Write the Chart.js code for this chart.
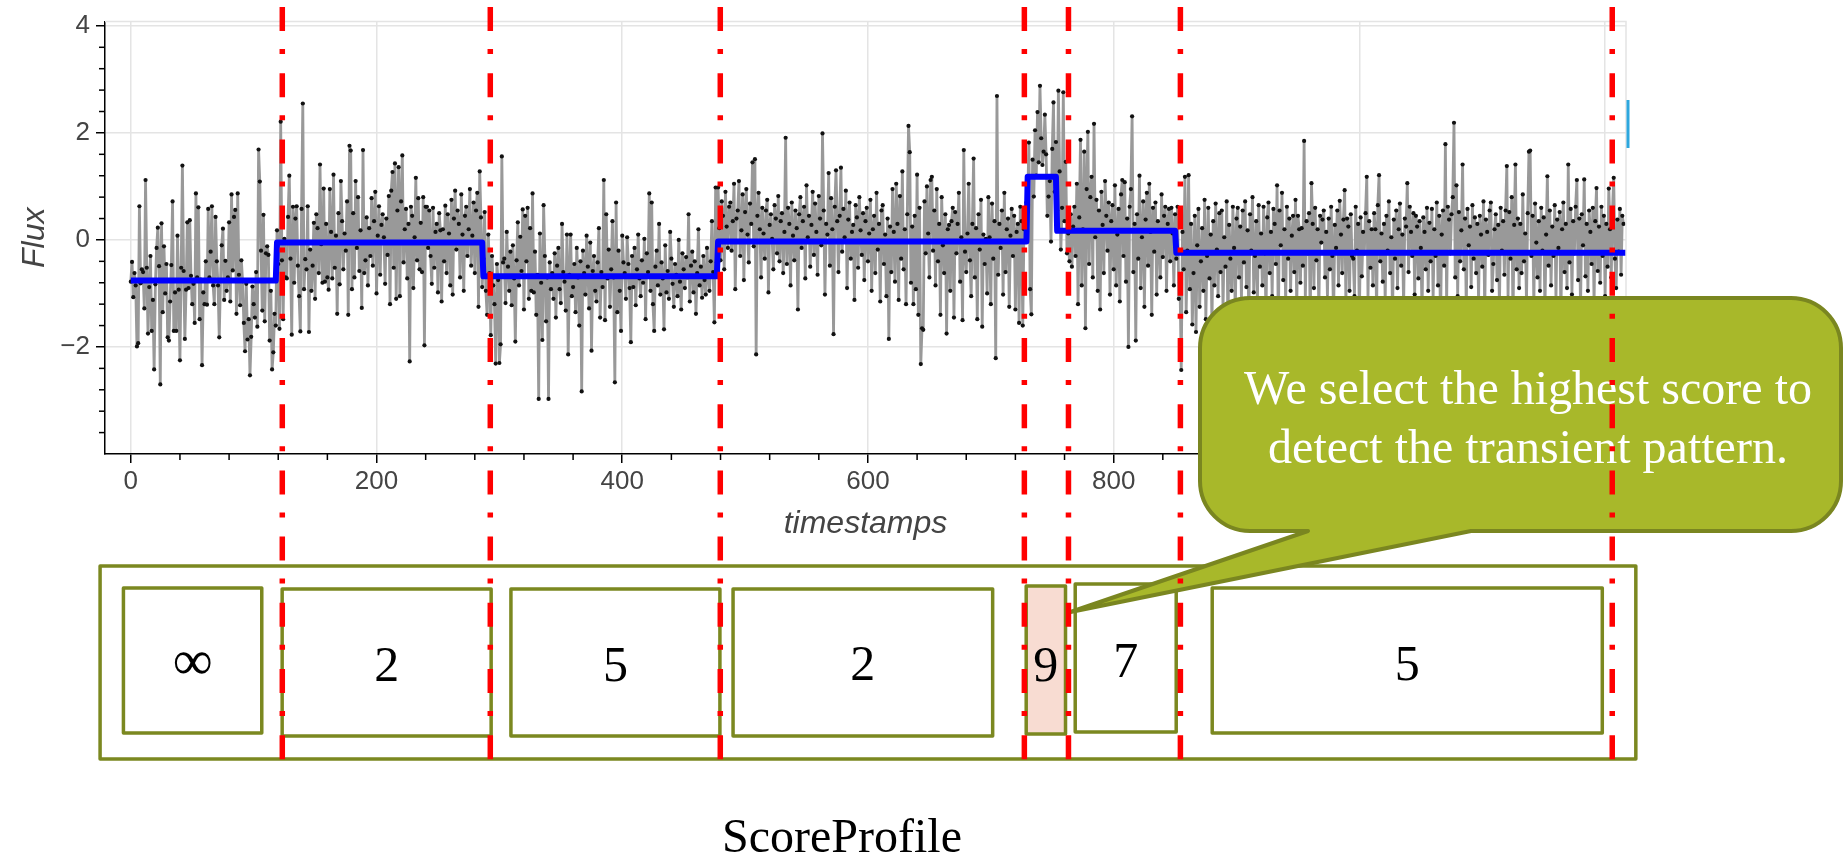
<!DOCTYPE html>
<html>
<head>
<meta charset="utf-8">
<title>ScoreProfile</title>
<script src="https://cdn.jsdelivr.net/npm/chart.js@4.4.1/dist/chart.umd.min.js"></script>
<style>
  html, body { margin: 0; padding: 0; background: #ffffff; overflow: hidden; }
  #wrap { width: 1845px; height: 854px; position: relative; }
  canvas { display: block; }
</style>
</head>
<body>
<div id="wrap"><canvas id="chart" width="1845" height="854" style="width:1845px;height:854px"></canvas></div>
<script>
// ---- Flux samples, one value per timestamp, split by fitted segment ----
const fluxSeg1 = [
  -0.78, -0.41, -1.07, -0.62, -0.85, -1.99, -1.93, 0.63, -0.81, -0.55,
  -0.60, -1.28, 1.12, -0.52, -1.75, -0.88, -0.30, -1.70, -1.12, -2.42,
  -0.83, -0.15, 0.23, -0.49, -2.70, 0.31, -1.35, -0.12, -1.00, -0.45,
  -1.82, -1.88, -1.15, -0.47, 0.72, -1.70, -0.98, -1.70, 0.08, -0.93,
  -2.25, -0.52, 1.39, -0.58, -1.85, -0.93, 0.33, -0.90, 0.37, -0.67,
  -1.20, -0.82, -1.55, 0.87, -0.70, 0.61, -1.48, -0.74, -2.34, -0.98,
  -1.20, -0.40, -1.21, 0.58, -0.70, -0.22, 0.63, -0.85, -1.20, 0.43,
  -0.40, -0.85, -1.82, -0.75, -0.10, 0.21, -1.12, -0.39, -0.95, -0.70,
  0.33, -1.15, 0.85, -0.57, 0.43, 0.56, -1.38, 0.87, -0.65, -1.22,
  -0.38, -0.77, -1.55, -2.08, -0.82, -1.86, -1.48, -2.53, -1.81, -0.87,
  -1.20, -1.45, -0.60, -1.62, 1.69, 1.09, -0.20, -1.32, 0.47, -1.52,
  -0.25, -0.12, -0.28, -1.88, -0.95, -2.42, -2.10, -1.38, -1.60
];
const fluxSeg2 = [
  0.18, -0.45, -1.66, 2.21, -0.38, -1.48, 0.02, -0.70, -0.72, 0.43,
  1.20, -0.35, -1.77, 0.62, -0.80, 0.40, 0.63, -0.48, -1.05, -1.71,
  0.58, 2.55, -0.92, -0.36, -0.55, 0.63, -1.72, -0.18, -0.95, -0.48,
  0.32, -1.10, 0.48, 0.22, -0.62, 1.41, -0.08, -0.80, 0.96, -0.78,
  0.30, -0.70, -0.93, 0.95, 0.15, -0.72, 1.22, -0.52, 0.08, -1.38,
  0.50, -0.83, 1.10, 0.35, -0.55, 0.12, -0.20, 0.72, -1.40, 1.76,
  1.67, -0.92, 0.50, -0.70, 1.10, -0.15, 0.80, -0.58, 0.18, -1.27,
  1.68, -0.62, -0.38, 0.42, -0.85, 0.22, -0.30, 0.78, -0.48, 0.35,
  0.90, -1.00, 0.08, 0.63, -0.65, 0.28, 0.48, 0.05, -0.82, 0.40,
  -0.28, 0.82, -1.20, 0.92, 1.27, -0.52, 1.43, -1.10, 0.55, 1.36,
  -1.05, 0.72, 1.58, -0.42, 0.20, 0.58, -0.72, 0.30, -2.27, 0.62,
  0.45, -0.90, 0.05, 1.16, -0.38, 0.78, -0.55, 0.32, -0.60, 0.80,
  -1.97, 0.62, 0.62, -0.15, 0.55, -0.30, -0.82, 0.60, -0.52, 0.15,
  0.30, -0.98, 0.50, 0.18, -1.15, 0.20, -0.40, 0.64, -0.62, 0.48,
  0.12, -0.85, 0.75, -1.02, 0.40, 0.92, -0.18, 0.55, 0.30, -0.70,
  0.85, 0.10, -0.95, 0.45, 0.62, -0.30, 0.20, 0.95, -0.48, 0.08,
  0.70, -0.62, 0.55, 0.88, -1.25, 1.28, 0.42, -0.88
];
const fluxSeg3 = [
  -0.35, 0.52, -0.95, -1.40, 0.10, -0.62, -1.78, -0.30, -0.85, -1.20,
  -2.31, -0.45, -0.75, -2.30, -1.95, 1.56, -0.42, -0.35, -1.18, 0.15,
  -0.50, -0.95, -0.22, -1.22, -0.10, -0.72, -1.90, -0.38, 0.33, -0.85,
  0.06, -0.58, 0.57, -1.30, 0.45, -0.40, 0.60, -1.10, 0.22, -0.95,
  0.87, -0.98, -0.22, -1.40, -0.65, -2.97, 0.12, -0.80, -1.87, 0.65,
  -0.30, -1.52, -0.70, -2.97, -0.42, -0.92, -0.62, -1.10, -0.25, -1.45,
  -0.48, -0.15, -0.92, -1.18, 0.30, -0.60, -0.78, -1.32, 0.10, -2.14,
  -0.65, 0.10, -1.05, -0.88, -0.45, -1.35, -0.15, -0.70, -1.60, -0.40,
  -2.83, -0.20, -0.62, -1.02, 0.08, -0.50, -1.28, -0.05, -2.07, -0.58,
  -0.30, -0.95, -1.15, -0.42, 0.22, -1.45, -0.60, -0.88, 1.12, -1.50,
  0.48, -0.72, -0.18, -1.25, -0.55, 0.35, -0.70, -2.66, 0.70, -1.35,
  -0.20, -0.95, -1.70, 0.08, -0.42, -0.62, -1.10, 0.05, -0.45, -0.90,
  -1.91, -0.30, -0.88, -0.15, -1.22, -0.55, 0.10, -0.72, -1.05, -0.38,
  -0.80, 0.02, -1.48, -0.25, -0.60, 0.87, -0.95, 0.70, -1.20, -1.70,
  -0.50, -0.20, -0.85, 0.30, -1.02, -0.42, -0.72, -1.67, -0.10, -0.98,
  -0.58, -1.10, 0.15, -0.35, -0.82, -1.25, -0.45, -0.65, -1.05, 0.00,
  -0.78, -1.30, -0.25, -0.55, -0.90, -0.32, -0.70, 0.48, -1.15, -0.48,
  -0.22, -0.98, -0.40, -1.38, -0.62, 0.20, -0.85, -0.50, -1.08, -0.30,
  -0.75, -1.02, -0.15, -0.68, -0.95, -0.40, 0.35, -0.60, -1.54, 0.98,
  -0.42
];
const fluxSeg4 = [
  0.98, 0.22, -0.38, 0.72, 0.45, -0.55, 0.90, 0.25, -0.15, 0.62,
  0.70, -0.20, 0.35, 1.05, -0.92, 0.40, 0.55, 1.10, -0.30, 0.18,
  0.85, -0.75, 0.52, 0.95, 0.10, -0.42, 0.68, 0.30, 1.45, -0.12,
  1.51, -2.14, 0.45, 0.88, 0.20, -0.70, 0.60, 0.12, -0.35, 0.55,
  0.75, -0.98, 0.28, 0.48, 0.02, -0.55, 0.65, 0.40, -0.25, 0.82,
  -0.40, 0.35, 0.50, -0.62, 0.15, 1.91, -0.45, 0.60, 0.30, -0.85,
  0.70, 0.08, -0.38, 0.55, 0.22, -1.30, 0.48, 0.80, -0.15, 0.35,
  0.62, -0.72, 1.02, 0.05, 0.45, -0.50, 0.28, 0.90, -0.28, 0.68,
  0.15, -0.65, 0.82, 0.40, -0.10, 1.99, 0.55, -1.02, 0.30, 0.10,
  1.25, -0.48, 0.78, 0.20, -1.76, 0.62, 1.30, 0.35, -0.60, 0.45,
  1.35, -0.22, 0.58, 0.05, 0.92, -0.90, 0.38, 0.70, -0.35, 0.15,
  0.28, -1.12, 0.65, 0.42, -0.52, 0.80, 0.18, -0.28, 0.50, -0.75,
  0.35, 0.60, -0.40, 0.12, 0.75, -0.95, 0.20, 0.45, -0.62, 0.88,
  -0.18, 0.30, -1.15, 0.55, 0.65, -0.45, 0.10, -1.05, 0.40, -1.85,
  0.25, -0.60, 0.95, 0.15, -0.78, 1.05, 0.30, -1.12, 0.82, -0.35,
  1.28, -0.55, 0.20, -1.20, 0.48, 2.13, 1.64, -0.80, 0.25, -1.20,
  0.45, -0.92, 1.22, -1.40, 0.60, -2.32, -1.65, -1.68, 0.72, -0.25,
  1.00, 0.12, -0.70, 1.12, 1.18, -0.20, 0.55, -0.85, 0.95, -0.40,
  0.30, -1.40, 0.80, -0.10, -0.62, 0.48, -1.75, 0.20, 0.28, -0.95,
  0.35, 0.60, -1.45, 0.52, -0.25, 0.30, 0.88, -0.78, 0.05, -1.50,
  1.68, -0.22, -0.60, 0.12, 1.05, -0.38, -1.05, 0.30, 1.52, -0.70,
  0.22, -1.48, 0.48, -0.18, 0.75, -1.62, 0.10, -0.45, 0.02, -1.00,
  0.80, 0.05, -1.20, 0.68, -0.35, 0.35, -2.21, 2.69, -0.65, 0.30,
  -0.15, 0.55, -1.02, 0.88, -0.60, 0.20, 0.40, -1.25, 0.08, 0.58,
  -0.30, 0.45, -1.30, 0.15, 0.30, -1.55, 0.62, 0.35, -1.60, 0.20,
  0.52, 0.70
];
const fluxSeg5 = [
  0.75, 1.82, -0.92, -1.39, 1.50, 0.81, 2.05, 1.20, 2.39, 1.45,
  2.88, 1.90, 1.40, 1.65, 2.34, 1.60, 0.45, 0.81, 1.10, -0.03,
  1.70, 2.57, 0.90, 1.83
];
const fluxSeg6 = [
  0.55, 2.79, 1.28, -0.18, 0.60, 2.76, 0.35, 1.46, -0.25, 0.12,
  -0.40, 0.48, -0.50, 0.25, 0.62, -0.30, 1.05, -1.20, 0.42, 1.87,
  -0.85, 0.20, 1.65, -1.65, 0.95, 2.02, -0.45, 0.80, 1.18, -0.70,
  2.17, 0.05, 0.75, -0.95, 0.55, -1.30, 0.90, 0.28, -0.62, 1.10,
  0.45, -0.20, 0.70, -1.02, 0.35, 0.65, -0.55, 1.02, -0.85, 0.10,
  0.58, -1.15, 0.85, 1.12, -0.30, 1.08, -0.78, 0.40, -2.00, 0.62,
  0.95, 2.31, -0.60, 0.30, -1.88, 0.48, -0.35, 1.20, -0.90, 0.05,
  0.72, -1.25, 0.38, 0.88, -0.48, 1.05, 0.15, -1.40, 0.60, -0.22,
  0.70, -1.02, 0.35, 0.18, -0.70, 0.85, -0.32, 0.45, 0.62, -0.95,
  0.30, 0.58, -0.40, 0.60, 0.12, -0.85, 0.48
];
const fluxSeg7 = [
  -0.35, 0.62, -1.10, -0.80, -2.43, 0.15, -0.55, 1.18, -1.35, -0.20,
  1.21, -0.92, 0.30, -1.58, -0.62, 0.45, -1.72, -0.10, 0.58, -1.25,
  -0.40, 0.22, -0.95, 0.75, -1.48, -0.30, 0.60, -0.72, 0.10, -1.62,
  0.35, -0.85, 0.68, -0.18, -1.05, 0.50, -0.60, 0.55, -1.30, 0.05,
  -0.50, 0.72, -1.80, 0.28, -0.35, -0.95, 0.62, -0.15, -1.40, 0.40,
  0.60, -0.70, 0.25, -1.12, 0.55, -0.42, 0.72, -0.88, 0.18, -1.55,
  0.48, -0.20, 0.80, -0.98, -0.30, 0.35, -1.22, 0.65, -0.50, 0.12,
  -0.85, 0.62, -0.25, -1.40, 0.42, 0.70, -0.62, 0.15, -1.05, 0.58,
  0.30, -0.45, 1.02, -1.70, 0.55, -0.10, 0.88, -0.75, 0.20, -1.20,
  0.62, -0.35, 0.40, -0.95, 0.08, 0.45, -0.60, 0.75, -1.30, 0.45,
  0.20, -0.80, 0.22, -0.48, 1.85, -1.15, 0.35, -0.25, 0.50, -1.62,
  1.06, 0.30, -0.90, 0.60, -0.38, 0.20, -1.35, 0.45, -0.05, 0.38,
  0.55, -0.70, 0.15, -1.08, 0.40, -0.55, 0.62, -0.30, -1.45, 0.28,
  -0.15, 0.55, -0.85, 0.73, 0.10, -0.62, 0.38, 0.93, -1.20, 0.40,
  0.25, -0.95, 0.48, -0.30, -0.35, -1.05, 0.62, -0.20, 0.30, -1.50,
  0.42, -0.68, 0.15, -0.25, 0.50, 1.18, -1.10, 0.35, -0.52, 0.20,
  -0.85, 0.50, 0.20, -1.35, 0.65, 1.21, -0.40, 0.12, -0.78, 0.30,
  -1.18, 0.45, -0.20, 0.72, -0.62, 0.05, -1.42, 0.38, -0.35, 0.55,
  -0.90, 0.20, 0.68, -0.48, 0.10, -1.25, 0.40, 0.25, 1.06, -0.60,
  0.62, 0.15, -0.30, 0.50, -1.02, 0.45, 0.25, -0.72, 0.35, -0.15,
  -1.38, 0.42, 0.15, -0.55, 0.60, -0.95, 0.32, -0.40, 0.58, -1.10,
  0.20, -0.30, 0.70, -0.85, 0.45, -1.60, 0.10, 0.55, -0.48, 1.79,
  -1.22, 0.62, 0.38, -0.25, 0.48, 0.80, 2.19, -0.70, 1.02, -1.05,
  0.52, -0.40, 0.18, 1.41, -0.55, 0.40, -1.30, 0.58, -0.10, 0.25,
  -0.88, 0.65, -0.35, 0.42, -0.62, 0.30, -1.15, 0.45, 0.10, -0.50,
  0.72, -1.40, 0.38, 0.15, -0.28, 0.55, 0.70, -0.95, -0.45, 0.20,
  0.48, -0.75, 0.28, -1.28, 0.60, -0.20, 0.35, -0.65, 0.55, 1.38,
  -1.08, 0.52, -0.35, 0.80, -1.50, 0.28, 1.41, -0.55, 0.40, -0.90,
  0.30, -0.62, 0.85, -0.40, 0.12, -1.18, 0.50, 1.65, 1.67, -0.30,
  0.45, -1.25, 0.68, -0.05, -0.70, 0.35, -0.95, 0.60, -0.20, 0.42,
  -1.35, 0.10, 1.19, -0.48, 0.55, -0.85, 0.25, -0.30, 0.65, -1.12,
  0.38, -0.15, 0.52, -1.45, 0.20, 0.70, -0.60, 0.30, -0.90, 1.41,
  -0.42, 0.58, -1.02, 0.35, -0.25, 0.62, 1.12, -0.75, 0.40, -1.30,
  0.48, -0.10, 1.13, -0.68, 0.30, -0.95, 0.55, 0.15, -0.45, 0.60,
  -1.20, 0.35, 0.97, -0.58, 0.25, -0.80, 0.62, -0.30, 0.45, -1.05,
  0.30, -0.50, 0.96, 0.20, -0.70, 0.55, 1.16, -0.35, -0.90, 0.38,
  -0.22, 0.58, -0.65, 0.45, 0.30
];

// ---- Piecewise-constant fit: segment start timestamps and levels ----
const stepStarts = [0, 119, 287, 478, 730, 754, 851];
const stepLevels = [-0.76, -0.05, -0.68, -0.03, 1.18, 0.17, -0.24];
const stepEnd = 1217;

// ---- Detected change points (timestamps) ----
const changePoints = [123.3, 292.6, 479.8, 727.3, 763.2, 854.3, 1205.8];

// ---- Score of each segment ----
const scores = ['\u221E', '2', '5', '2', '9', '7', '5'];
const bestScoreIndex = 4;

// ---- Axis ticks ----
const xTicks = [0, 200, 400, 600, 800, 1000, 1200];
const yTicks = [-2, 0, 2, 4];

// ---- Text ----
const calloutLines = ['We select the highest score to', 'detect the transient pattern.'];
const profileTitle = 'ScoreProfile';

// ---- Layout of the score boxes (timestamp span, pixel top / bottom / label baseline) ----
const scoreBoxLayout = [
  { from: -6.0,  to: 106.6,  top: 588, bottom: 733, base: 679 },
  { from: 123.2, to: 293.3,  top: 589, bottom: 736, base: 681 },
  { from: 309.4, to: 479.5,  top: 589, bottom: 736, base: 681 },
  { from: 490.2, to: 701.5,  top: 589, bottom: 736, base: 680 },
  { from: 728.8, to: 760.8,  top: 586, bottom: 734, base: 681 },
  { from: 768.7, to: 850.9,  top: 584, bottom: 732, base: 677 },
  { from: 880.2, to: 1197.7, top: 588, bottom: 733, base: 680 }
];
const outerBox = { from: -25.0, to: 1225.0, top: 566, bottom: 759 };

const flux = [].concat(fluxSeg1, fluxSeg2, fluxSeg3, fluxSeg4, fluxSeg5, fluxSeg6, fluxSeg7);
const fluxPoints = flux.map((v, i) => ({ x: i, y: v }));

const stepPoints = [];
stepStarts.forEach((s, i) => {
  const e = i + 1 < stepStarts.length ? stepStarts[i + 1] - 1 : stepEnd;
  stepPoints.push({ x: s, y: stepLevels[i] }, { x: e, y: stepLevels[i] });
});

const OLIVE = '#7b8820';
const SERIF = '"Liberation Serif", "Times New Roman", Times, serif';

function line(ctx, x0, y0, x1, y1) {
  ctx.beginPath(); ctx.moveTo(x0, y0); ctx.lineTo(x1, y1); ctx.stroke();
}

function calloutPath(ctx, L, T, R, B, r, tail) {
  ctx.beginPath();
  ctx.moveTo(L + r, T);
  ctx.lineTo(R - r, T);
  ctx.arcTo(R, T, R, T + r, r);
  ctx.lineTo(R, B - r);
  ctx.arcTo(R, B, R - r, B, r);
  ctx.lineTo(tail.right, B);
  ctx.lineTo(tail.tipX, tail.tipY);
  ctx.lineTo(tail.left, B);
  ctx.lineTo(L + r, B);
  ctx.arcTo(L, B, L, B - r, r);
  ctx.lineTo(L, T + r);
  ctx.arcTo(L, T, L + r, T, r);
  ctx.closePath();
}

const overlay = {
  id: 'scoreOverlay',
  afterDraw(chart) {
    const ctx = chart.ctx;
    const xs = chart.scales.x, ys = chart.scales.y, a = chart.chartArea;
    ctx.save();

    // plot frame (top and right)
    ctx.strokeStyle = '#e4e4e4'; ctx.lineWidth = 1.5;
    ctx.beginPath();
    ctx.moveTo(a.left, a.top); ctx.lineTo(a.right, a.top); ctx.lineTo(a.right, a.bottom);
    ctx.stroke();

    // minor ticks
    ctx.strokeStyle = '#000'; ctx.lineWidth = 1.5;
    for (let k = 1; k * 40 <= xs.max; k++) {
      if (k % 5 === 0) continue;
      const px = xs.getPixelForValue(k * 40);
      line(ctx, px, a.bottom, px, a.bottom + 6);
    }
    for (let k = -9; k <= 10; k++) {
      if (k % 5 === 0) continue;
      const py = ys.getPixelForValue(k * 0.4);
      line(ctx, a.left - 6, py, a.left, py);
    }

    // toolbar marker at the right edge
    ctx.strokeStyle = '#2da7de'; ctx.lineWidth = 3;
    line(ctx, a.right + 2, 100, a.right + 2, 148);

    // score profile boxes
    ctx.lineJoin = 'round';
    ctx.strokeStyle = OLIVE; ctx.lineWidth = 3.5;
    const ox0 = xs.getPixelForValue(outerBox.from), ox1 = xs.getPixelForValue(outerBox.to);
    ctx.strokeRect(ox0, outerBox.top, ox1 - ox0, outerBox.bottom - outerBox.top);
    scoreBoxLayout.forEach((b, i) => {
      const x0 = xs.getPixelForValue(b.from), x1 = xs.getPixelForValue(b.to);
      if (i === bestScoreIndex) {
        ctx.fillStyle = '#f8dcd2';
        ctx.fillRect(x0, b.top, x1 - x0, b.bottom - b.top);
      }
      ctx.strokeRect(x0, b.top, x1 - x0, b.bottom - b.top);
      ctx.fillStyle = '#000';
      ctx.font = (i === 0 ? '56px ' : '50px ') + SERIF;
      ctx.textAlign = 'center'; ctx.textBaseline = 'alphabetic';
      ctx.fillText(scores[i], (x0 + x1) / 2, b.base);
    });

    // caption
    ctx.fillStyle = '#000';
    ctx.font = '48px ' + SERIF;
    ctx.textAlign = 'center';
    ctx.fillText(profileTitle, 842, 852);

    // callout bubble pointing at the best score
    const best = scoreBoxLayout[bestScoreIndex];
    const tipX = xs.getPixelForValue(best.to) + 5;
    calloutPath(ctx, 1200, 298, 1841, 531, 50, { left: 1308, right: 1471, tipX: tipX, tipY: 612 });
    ctx.fillStyle = '#a8b82a';
    ctx.fill();
    ctx.strokeStyle = '#7a8620'; ctx.lineWidth = 4;
    ctx.stroke();
    ctx.fillStyle = '#ffffff';
    ctx.font = '48px ' + SERIF;
    ctx.textAlign = 'center';
    ctx.fillText(calloutLines[0], 1528, 404);
    ctx.fillText(calloutLines[1], 1528, 463);

    // change points as dash-dot red lines
    ctx.strokeStyle = '#ff0000'; ctx.lineWidth = 5.5; ctx.lineCap = 'butt';
    ctx.setLineDash([24, 18, 5, 19.2]);
    changePoints.forEach(cp => {
      const px = xs.getPixelForValue(cp);
      line(ctx, px, 7, px, 760);
    });
    ctx.setLineDash([]);
    ctx.restore();
  }
};

Chart.defaults.font.family = '"Liberation Sans", Arial, Helvetica, sans-serif';
Chart.defaults.color = '#444444';

new Chart(document.getElementById('chart'), {
  type: 'scatter',
  data: {
    datasets: [
      {
        label: 'Flux',
        data: fluxPoints,
        showLine: true,
        borderColor: '#999999',
        borderWidth: 2.8,
        borderJoinStyle: 'bevel',
        pointRadius: 2.1,
        pointBackgroundColor: '#111111',
        pointBorderWidth: 0,
        order: 2
      },
      {
        label: 'Segment fit',
        data: stepPoints,
        showLine: true,
        borderColor: '#0000ff',
        borderWidth: 6,
        borderJoinStyle: 'round',
        pointRadius: 0,
        order: 1
      }
    ]
  },
  options: {
    responsive: false,
    animation: false,
    devicePixelRatio: 1,
    layout: { padding: { left: 0, top: 14, right: 219, bottom: 300 } },
    plugins: { legend: { display: false }, tooltip: { enabled: false } },
    scales: {
      x: {
        type: 'linear',
        min: -21,
        max: 1217,
        afterBuildTicks: s => { s.ticks = xTicks.map(v => ({ value: v })); },
        afterFit: s => { s.height = 100; },
        grid: { color: '#e4e4e4', lineWidth: 1.5, drawTicks: true, tickLength: 9, tickColor: '#000', tickWidth: 1.5 },
        border: { display: true, color: '#000', width: 1.5 },
        ticks: { font: { size: 26 }, color: '#444', padding: 3, maxRotation: 0, autoSkip: false, callback: v => String(v) },
        title: { display: true, text: 'timestamps', font: { size: 32, style: 'italic' }, color: '#444', padding: { top: 0, bottom: 11 } }
      },
      y: {
        type: 'linear',
        min: -4,
        max: 4.08,
        afterBuildTicks: s => { s.ticks = yTicks.map(v => ({ value: v })); },
        afterFit: s => { s.width = 105; },
        grid: { color: '#e4e4e4', lineWidth: 1.5, drawTicks: true, tickLength: 9, tickColor: '#000', tickWidth: 1.5 },
        border: { display: true, color: '#000', width: 1.5 },
        ticks: { font: { size: 26 }, color: '#444', padding: 6, autoSkip: false,
                 callback: v => (v < 0 ? '\u2212' + Math.abs(v) : String(v)) },
        title: { display: true, text: 'Flux', font: { size: 32, style: 'italic' }, color: '#444', padding: { top: 16, bottom: 0 } }
      }
    }
  },
  plugins: [overlay]
});
</script>
</body>
</html>
